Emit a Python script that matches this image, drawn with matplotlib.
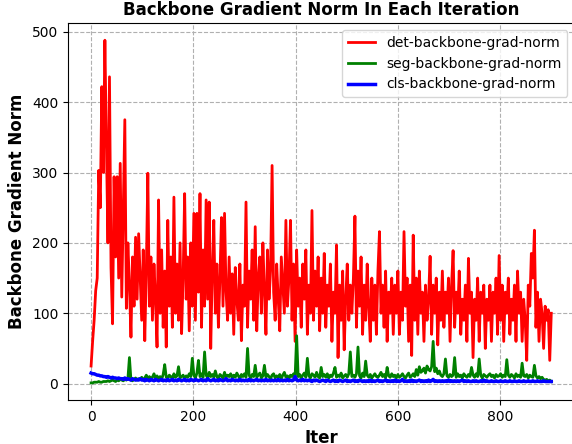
"""
Backbone gradient norm per iteration for the det / seg / cls heads.
"""

import numpy as np
import matplotlib
matplotlib.use('Agg')
import matplotlib.pyplot as plt

title = 'Backbone Gradient Norm In Each Iteration'
label_x = 'Iter'
label_y = 'Backbone Gradient Norm'

# one value every 3 iterations
iters = np.arange(0, 903, 3)

det_norm = [
    25, 60, 90, 132, 150, 303, 250, 422, 300, 488,
    337, 200, 436, 165, 85, 294, 180, 294, 150, 313,
    123, 250, 375, 107, 200, 140, 66, 180, 110, 208,
    120, 213, 150, 90, 190, 61, 160, 299, 110, 180,
    90, 170, 120, 52, 261, 100, 190, 80, 160, 52,
    232, 110, 180, 80, 265, 100, 170, 90, 200, 71,
    150, 270, 120, 180, 75, 200, 110, 242, 90, 242,
    130, 270, 80, 190, 110, 261, 120, 258, 50, 160,
    232, 100, 170, 80, 150, 236, 110, 242, 130, 90,
    180, 100, 156, 70, 165, 120, 90, 170, 61, 140,
    110, 258, 80, 160, 120, 190, 90, 223, 75, 150,
    180, 100, 200, 130, 70, 190, 120, 160, 310, 130,
    90, 170, 120, 75, 180, 140, 100, 232, 110, 150,
    232, 90, 170, 60, 190, 110, 150, 80, 170, 120,
    190, 70, 140, 100, 246, 90, 160, 110, 180, 75,
    150, 100, 185, 80, 140, 110, 170, 60, 130, 100,
    197, 37, 140, 90, 160, 48, 120, 170, 90, 140,
    100, 150, 238, 80, 160, 110, 180, 70, 140, 90,
    170, 110, 60, 150, 90, 140, 70, 160, 216, 100,
    140, 80, 160, 60, 130, 100, 150, 70, 140, 100,
    160, 70, 130, 90, 216, 110, 150, 60, 140, 40,
    211, 90, 150, 70, 160, 100, 130, 60, 140, 90,
    120, 181, 70, 140, 100, 150, 55, 130, 90, 160,
    80, 130, 100, 150, 60, 140, 189, 80, 130, 100,
    160, 70, 120, 90, 140, 60, 178, 100, 130, 37,
    120, 90, 150, 60, 130, 100, 140, 50, 120, 90,
    140, 60, 130, 100, 150, 70, 182, 90, 140, 60,
    130, 100, 150, 70, 120, 90, 140, 60, 160, 100,
    130, 60, 120, 90, 33, 140, 110, 185, 150, 218,
    80, 130, 60, 120, 100, 50, 110, 90, 105, 33,
    100,
]

seg_norm = [
    1, 1, 2, 2, 2, 3, 2, 2, 3, 3,
    3, 4, 3, 4, 5, 4, 3, 5, 4, 6,
    5, 4, 6, 5, 7, 37, 5, 4, 6, 8,
    5, 7, 6, 9, 5, 8, 12, 6, 10, 7,
    9, 14, 8, 11, 7, 10, 6, 13, 27, 9,
    8, 12, 10, 7, 14, 9, 11, 24, 8, 10,
    12, 7, 11, 9, 14, 10, 36, 12, 8, 15,
    33, 10, 14, 9, 45, 12, 8, 16, 10, 13,
    9, 18, 10, 7, 13, 11, 8, 16, 9, 12,
    10, 14, 8, 12, 9, 15, 11, 7, 13, 10,
    14, 9, 50, 12, 8, 13, 10, 26, 9, 12,
    15, 8, 11, 26, 9, 13, 10, 7, 12, 14,
    8, 11, 9, 13, 7, 12, 16, 9, 11, 8,
    12, 10, 14, 9, 68, 10, 13, 8, 12, 15,
    9, 36, 11, 8, 14, 12, 9, 16, 10, 8,
    23, 10, 13, 9, 14, 8, 12, 10, 15, 23,
    9, 12, 10, 15, 8, 11, 13, 9, 14, 45,
    10, 12, 9, 14, 52, 11, 8, 15, 10, 32,
    12, 9, 13, 8, 11, 14, 10, 9, 12, 16,
    10, 13, 8, 23, 11, 9, 14, 10, 12, 8,
    13, 9, 11, 14, 10, 8, 12, 15, 9, 11,
    14, 10, 20, 12, 24, 16, 18, 22, 15, 25,
    20, 18, 24, 60, 17, 22, 14, 18, 12, 10,
    14, 35, 11, 9, 13, 10, 12, 37, 9, 14,
    10, 12, 8, 14, 11, 9, 13, 10, 23, 12,
    9, 14, 10, 35, 12, 8, 13, 11, 9, 12,
    14, 10, 12, 8, 13, 10, 11, 14, 9, 12,
    10, 34, 12, 9, 13, 11, 8, 14, 10, 12,
    9, 29, 11, 10, 13, 8, 12, 10, 9, 26,
    11, 8, 10, 7, 9, 6, 5, 6, 4, 5,
    3,
]

cls_norm = [
    15, 14, 14, 13, 12, 12, 11, 11, 10, 10,
    9, 10, 9, 8, 9, 8, 8, 7, 8, 7,
    7, 6, 8, 6, 7, 6, 5, 7, 6, 5,
    6, 5, 7, 5, 6, 4, 6, 5, 4, 6,
    5, 4, 6, 5, 4, 5, 6, 4, 5, 4,
    6, 4, 5, 6, 4, 5, 4, 6, 5, 4,
    5, 6, 4, 5, 4, 6, 5, 4, 6, 5,
    4, 5, 6, 4, 5, 4, 7, 5, 4, 5,
    6, 4, 5, 4, 6, 5, 4, 5, 7, 4,
    5, 4, 6, 5, 4, 5, 4, 6, 4, 5,
    4, 5, 4, 6, 4, 5, 4, 5, 6, 4,
    5, 4, 5, 4, 6, 4, 5, 4, 5, 4,
    5, 4, 6, 4, 5, 4, 5, 4, 6, 4,
    5, 4, 5, 10, 5, 4, 5, 4, 6, 4,
    5, 4, 5, 4, 3, 5, 4, 5, 4, 3,
    4, 5, 4, 3, 5, 4, 3, 4, 5, 3,
    4, 3, 5, 4, 3, 4, 5, 3, 4, 3,
    4, 5, 3, 4, 3, 5, 4, 3, 4, 3,
    4, 3, 5, 3, 4, 3, 4, 5, 3, 4,
    3, 4, 5, 3, 4, 3, 4, 3, 5, 3,
    4, 3, 4, 6, 3, 4, 3, 4, 3, 5,
    3, 4, 3, 4, 5, 3, 4, 3, 4, 3,
    5, 3, 4, 6, 3, 4, 3, 4, 3, 4,
    3, 4, 3, 5, 3, 4, 3, 4, 3, 4,
    3, 4, 5, 3, 4, 3, 4, 3, 3, 4,
    3, 4, 3, 3, 4, 3, 5, 3, 4, 3,
    3, 4, 3, 3, 4, 3, 3, 4, 3, 3,
    4, 3, 3, 4, 3, 3, 4, 3, 3, 4,
    3, 3, 4, 3, 3, 4, 3, 3, 4, 3,
    3, 4, 3, 3, 3, 4, 3, 3, 3, 3,
    3,
]

fig = plt.figure(figsize=(5.72, 4.44), dpi=100)
ax = fig.add_axes([0.119, 0.099, 0.885, 0.849])

ax.plot(iters, det_norm, color='red', lw=2, label='det-backbone-grad-norm')
ax.plot(iters, seg_norm, color='green', lw=2, label='seg-backbone-grad-norm')
ax.plot(iters, cls_norm, color='blue', lw=2.5, label='cls-backbone-grad-norm')

ax.grid(True, linestyle='--')
ax.legend(loc='upper right')

ax.set_title(title, fontsize=12, fontweight='bold')
ax.set_xlabel(label_x, fontsize=12, fontweight='bold')
ax.set_ylabel(label_y, fontsize=12, fontweight='bold')

fig.savefig('out.png', dpi=100)
